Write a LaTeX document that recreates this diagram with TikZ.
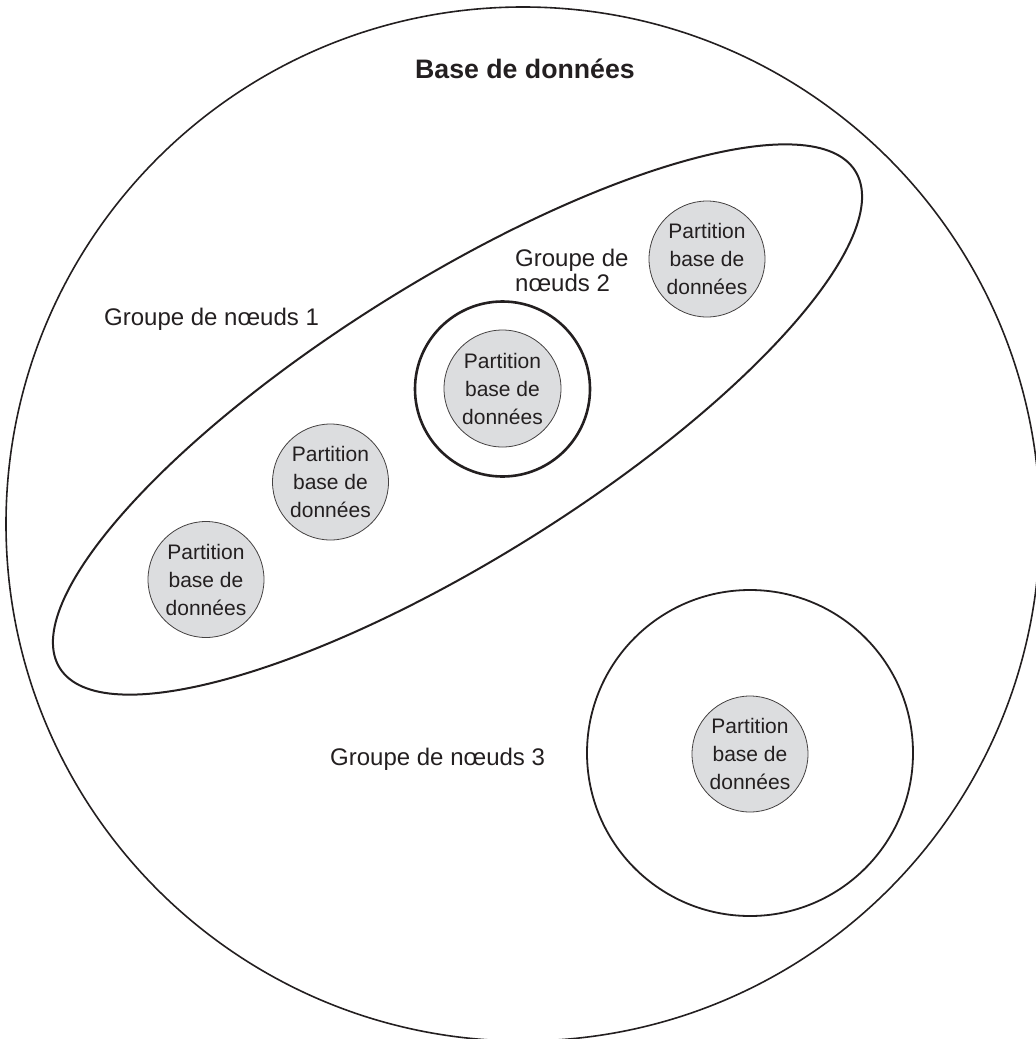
\documentclass[tikz,border=0pt]{standalone}
\usepackage{fontspec}
\setmainfont{Liberation Sans}
\usetikzlibrary{shapes.geometric}
\definecolor{partfill}{RGB}{220,221,223}
\definecolor{ink}{RGB}{35,31,32}
\begin{document}
\begin{tikzpicture}[x=1pt,y=-1pt,
  part/.style={circle, draw=ink!85, line width=0.8pt, fill=partfill, minimum size=116pt,
    inner sep=0pt, align=center, font=\fontsize{21}{28}\selectfont, text=ink},
  grp/.style={circle, draw=ink, inner sep=0pt},
  lbl/.style={font=\fontsize{24}{25}\selectfont, text=ink, inner sep=0pt},
  ttl/.style={font=\bfseries\fontsize{26.7}{30}\selectfont, text=ink, inner sep=0pt}]
\useasboundingbox (0,0) rectangle (1036,1039);
\node[grp, line width=1.6pt, minimum size=1034pt] (db) at (523,524) {};
\node[ellipse, draw=ink, line width=2pt, minimum width=938pt, minimum height=278pt,
      inner sep=0pt, rotate=32] (g1) at (457.5,419.5) {};
\node[grp, line width=2.6pt, minimum size=175pt] (g2) at (502.5,389) {};
\node[grp, line width=1.8pt, minimum size=326pt] (g3) at (750,753) {};
\node[part] (p1) at (206,579.5) {Partition\\base de\\données};
\node[part] (p2) at (330.5,482) {Partition\\base de\\données};
\node[part, minimum size=117pt] (p3) at (502.5,388.5) {Partition\\base de\\données};
\node[part] (p4) at (707,259) {Partition\\base de\\données};
\node[part] (p5) at (750,754) {Partition\\base de\\données};
\node[ttl, anchor=base] (title) at (525,78) {Base de données};
\node[lbl, anchor=base west] (l1) at (104,325) {Groupe de nœuds 1};
\node[lbl, anchor=base west, align=left] (l2) at (515,291) {Groupe de\\nœuds 2};
\node[lbl, anchor=base west] (l3) at (330,765) {Groupe de nœuds 3};
\end{tikzpicture}
\end{document}
